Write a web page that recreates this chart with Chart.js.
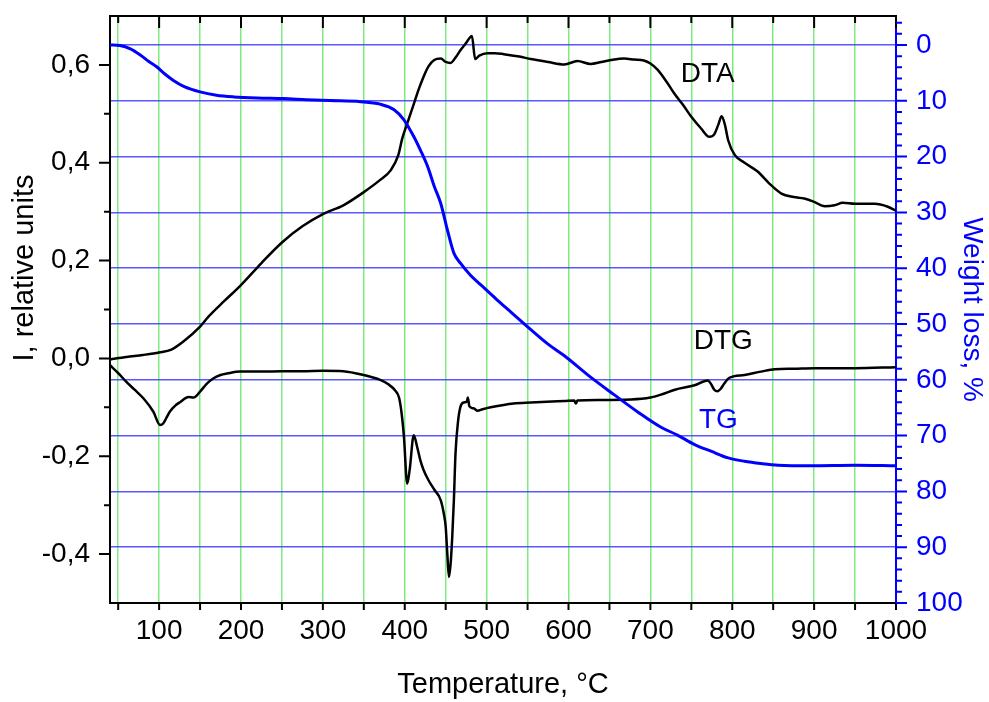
<!DOCTYPE html>
<html>
<head>
<meta charset="utf-8">
<script src="https://cdn.jsdelivr.net/npm/chart.js@4.4.1/dist/chart.umd.min.js"></script>
<style>
  body { margin: 0; background: #fff; }
</style>
</head>
<body>
<canvas id="chart" width="989" height="702"></canvas>
<script>
// DTA curve (left axis)
var dtaTemp = [40, 60, 80, 100, 115, 130, 150, 160, 180, 200, 225, 250, 275, 300, 325, 350, 370, 383, 392, 397, 404,
  411, 417, 423, 429, 436, 444, 450, 456, 462, 468, 475, 482, 486, 491, 501, 510, 521, 540, 554, 575, 595, 611, 627,
  640, 652, 668, 680, 692, 700, 709, 720, 729, 740, 750, 762, 772, 778, 783, 787, 791, 795, 803, 815, 831, 845, 860,
  875, 888, 900, 913, 925, 935, 950, 974, 990, 1000];
var dtaSignal = [-0.002, 0.003, 0.007, 0.012, 0.018, 0.035, 0.065, 0.085, 0.118, 0.150, 0.195, 0.237, 0.270, 0.295,
  0.313, 0.340, 0.365, 0.385, 0.415, 0.45, 0.485, 0.52, 0.55, 0.576, 0.597, 0.610, 0.613, 0.606, 0.604, 0.615, 0.630,
  0.645, 0.659, 0.612, 0.619, 0.624, 0.624, 0.622, 0.617, 0.612, 0.606, 0.601, 0.608, 0.602, 0.606, 0.610, 0.613,
  0.611, 0.609, 0.603, 0.590, 0.565, 0.542, 0.518, 0.494, 0.470, 0.453, 0.458, 0.478, 0.495, 0.478, 0.446, 0.416,
  0.400, 0.382, 0.358, 0.337, 0.330, 0.327, 0.320, 0.311, 0.313, 0.318, 0.316, 0.316, 0.310, 0.302];

// DTG curve (left axis)
var dtgTemp = [40, 50, 60, 70, 81, 93, 101, 105, 110, 113, 120, 126, 136, 142, 150, 158, 166, 175, 183, 199, 225, 250,
  275, 300, 325, 350, 370, 380, 388, 393, 396, 399, 403, 406, 411, 415, 419, 423, 429, 436, 444, 448, 450, 452, 454,
  456, 458, 460, 462, 465, 468, 472, 476, 477, 479, 484, 489, 495, 505, 533, 554, 580, 595, 607, 609, 611, 636, 676,
  700, 713, 730, 754, 770, 774, 778, 782, 786, 790, 796, 815, 835, 852, 875, 900, 950, 1000];
var dtgSignal = [-0.014, -0.030, -0.048, -0.064, -0.082, -0.109, -0.136, -0.133, -0.118, -0.109, -0.096, -0.089,
  -0.079, -0.080, -0.068, -0.052, -0.041, -0.034, -0.031, -0.027, -0.027, -0.026, -0.026, -0.025, -0.026, -0.034,
  -0.044, -0.053, -0.065, -0.080, -0.110, -0.160, -0.256, -0.228, -0.157, -0.180, -0.208, -0.228, -0.249, -0.268,
  -0.290, -0.320, -0.344, -0.400, -0.447, -0.420, -0.365, -0.290, -0.194, -0.130, -0.099, -0.090, -0.088, -0.080,
  -0.098, -0.102, -0.107, -0.104, -0.100, -0.092, -0.090, -0.088, -0.087, -0.086, -0.092, -0.086, -0.085, -0.084,
  -0.080, -0.074, -0.064, -0.055, -0.045, -0.052, -0.064, -0.067, -0.062, -0.052, -0.040, -0.034, -0.027, -0.022,
  -0.021, -0.020, -0.020, -0.018];

// TG curve (right axis, weight loss %)
var tgTemp = [40, 52, 65, 77, 87, 97, 107, 117, 130, 150, 170, 191, 220, 252, 280, 309, 346, 370, 387, 399, 411, 419,
  428, 436, 444, 452, 460, 468, 480, 493, 513, 530, 554, 575, 595, 625, 656, 685, 713, 733, 754, 774, 795, 815, 835,
  856, 896, 950, 1000];
var tgLoss = [0, 0.1, 0.7, 1.8, 2.9, 3.9, 5.2, 6.3, 7.4, 8.4, 9.0, 9.3, 9.5, 9.6, 9.8, 9.95, 10.15, 10.6, 11.6, 13.4,
  16.4, 18.8, 21.8, 25.3, 28.4, 33.1, 37.3, 39.1, 41.2, 43.0, 45.7, 47.9, 51.0, 53.6, 55.7, 59.3, 62.7, 65.8, 68.5,
  69.9, 71.6, 72.8, 74.0, 74.6, 75.0, 75.3, 75.4, 75.3, 75.4];

// labelled tick values
var tempLabels = [100, 200, 300, 400, 500, 600, 700, 800, 900, 1000];
var signalLabels = [-0.4, -0.2, 0, 0.2, 0.4, 0.6];
var lossLabels = [0, 10, 20, 30, 40, 50, 60, 70, 80, 90, 100];

var FONT = 'Liberation Sans, Arial, sans-serif';
var GREEN = 'rgb(125, 235, 125)';
var BLUE = '#0000ff';

function pts(xs, ys) {
  return xs.map(function(x, i) { return { x: x, y: ys[i] }; });
}

function tickList(from, to, step) {
  var out = [];
  for (var v = from; v <= to + 1e-9; v += step) {
    out.push({ value: Math.round(v * 1000) / 1000 });
  }
  return out;
}

function hasLabel(list, v) {
  return list.some(function(l) { return Math.abs(l - v) < 1e-6; });
}

// keep the plot box where the picture has it
function noEdgePadding(scale) {
  scale.paddingTop = 0;
  scale.paddingBottom = 0;
  scale.paddingLeft = 0;
  scale.paddingRight = 0;
}

// tick marks of different lengths, top frame line, text on the curves
var frame = {
  id: 'frame',
  afterDraw: function(chart) {
    var ctx = chart.ctx, a = chart.chartArea, s = chart.scales;
    ctx.save();
    ctx.lineWidth = 2;
    ctx.strokeStyle = '#000';
    ctx.beginPath();
    ctx.moveTo(a.left - 1, a.top);
    ctx.lineTo(a.right + 1, a.top);
    s.x.ticks.forEach(function(t) {
      var px = s.x.getPixelForValue(t.value);
      var major = t.value % 100 === 0;
      ctx.moveTo(px, a.bottom);
      ctx.lineTo(px, a.bottom + 7);
      ctx.moveTo(px, a.top);
      ctx.lineTo(px, a.top + (major ? 12 : 7));
    });
    s.y.ticks.forEach(function(t) {
      var py = s.y.getPixelForValue(t.value);
      var major = hasLabel(signalLabels, t.value);
      ctx.moveTo(a.left, py);
      ctx.lineTo(a.left - (major ? 11 : 6), py);
    });
    ctx.stroke();

    ctx.strokeStyle = BLUE;
    ctx.beginPath();
    s.y2.ticks.forEach(function(t) {
      var py = s.y2.getPixelForValue(t.value);
      var major = t.value % 10 === 0;
      ctx.moveTo(a.right, py);
      ctx.lineTo(a.right + (major ? 11 : 6), py);
    });
    ctx.stroke();

    // curve names
    ctx.font = '28px ' + FONT;
    ctx.textAlign = 'center';
    ctx.textBaseline = 'middle';
    ctx.fillStyle = '#000';
    ctx.fillText('DTA', s.x.getPixelForValue(770), s.y.getPixelForValue(0.58));
    ctx.fillText('DTG', s.x.getPixelForValue(789), s.y.getPixelForValue(0.035));
    ctx.fillStyle = BLUE;
    ctx.fillText('TG', s.x.getPixelForValue(783), s.y2.getPixelForValue(67.3));

    // left axis title
    ctx.fillStyle = '#000';
    ctx.font = '29px ' + FONT;
    ctx.textBaseline = 'alphabetic';
    ctx.translate(33, 268);
    ctx.rotate(-Math.PI / 2);
    ctx.fillText('I, relative units', 0, 0);
    ctx.restore();
  }
};

var ctx = document.getElementById('chart').getContext('2d');
var chart = new Chart(ctx, {
  type: 'line',
  data: {
    datasets: [{
      label: 'TG',
      data: pts(tgTemp, tgLoss),
      yAxisID: 'y2',
      borderColor: BLUE,
      borderWidth: 3,
      pointRadius: 0,
      fill: false,
      cubicInterpolationMode: 'monotone'
    }, {
      label: 'DTA',
      data: pts(dtaTemp, dtaSignal),
      yAxisID: 'y',
      borderColor: '#000',
      borderWidth: 2.5,
      pointRadius: 0,
      fill: false,
      cubicInterpolationMode: 'monotone'
    }, {
      label: 'DTG',
      data: pts(dtgTemp, dtgSignal),
      yAxisID: 'y',
      borderColor: '#000',
      borderWidth: 2.5,
      pointRadius: 0,
      fill: false,
      cubicInterpolationMode: 'monotone'
    }]
  },
  options: {
    responsive: false,
    animation: false,
    layout: { padding: { top: 16 } },
    plugins: {
      legend: { display: false },
      tooltip: { enabled: false }
    },
    scales: {
      x: {
        type: 'linear',
        position: 'bottom',
        min: 40,
        max: 1000,
        afterBuildTicks: function(scale) { scale.ticks = tickList(50, 1000, 50); },
        afterFit: function(scale) { scale.height = 99; noEdgePadding(scale); },
        ticks: {
          autoSkip: false,
          maxRotation: 0,
          padding: 11,
          color: '#000',
          font: { family: FONT, size: 28 },
          callback: function(v) { return hasLabel(tempLabels, v) ? String(v) : ''; }
        },
        grid: { color: GREEN, lineWidth: 1.5, drawTicks: false },
        border: { color: '#000', width: 2 },
        title: {
          display: true,
          text: 'Temperature, °C',
          color: '#000',
          font: { family: FONT, size: 29 },
          padding: { top: 0, bottom: 0 }
        }
      },
      y: {
        type: 'linear',
        position: 'left',
        min: -0.5,
        max: 0.7,
        afterBuildTicks: function(scale) { scale.ticks = tickList(-0.4, 0.6, 0.1); },
        afterFit: function(scale) { scale.width = 110; noEdgePadding(scale); },
        ticks: {
          autoSkip: false,
          padding: 20,
          color: '#000',
          font: { family: FONT, size: 28 },
          callback: function(v) {
            if (!hasLabel(signalLabels, v)) return '';
            return (Math.round(v * 10) / 10).toFixed(1).replace('.', ',');
          }
        },
        grid: { display: false, drawTicks: false },
        border: { color: '#000', width: 2 }
      },
      y2: {
        type: 'linear',
        position: 'right',
        reverse: true,
        min: -5.2,
        max: 100,
        afterBuildTicks: function(scale) { scale.ticks = tickList(-4, 100, 2); },
        afterFit: function(scale) { scale.width = 93; noEdgePadding(scale); },
        ticks: {
          autoSkip: false,
          padding: 20,
          color: BLUE,
          font: { family: FONT, size: 28 },
          callback: function(v) { return hasLabel(lossLabels, v) ? String(v) : ''; }
        },
        grid: {
          drawTicks: false,
          lineWidth: 1.5,
          color: function(c) {
            var v = c.tick ? c.tick.value : -1;
            return v % 10 === 0 && v < 100 ? 'rgba(70, 70, 255, 0.9)' : 'transparent';
          }
        },
        border: { color: BLUE, width: 2 },
        title: {
          display: true,
          text: 'Weight loss, %',
          color: BLUE,
          font: { family: FONT, size: 28 },
          padding: 0
        }
      }
    }
  },
  plugins: [frame]
});
</script>
</body>
</html>
